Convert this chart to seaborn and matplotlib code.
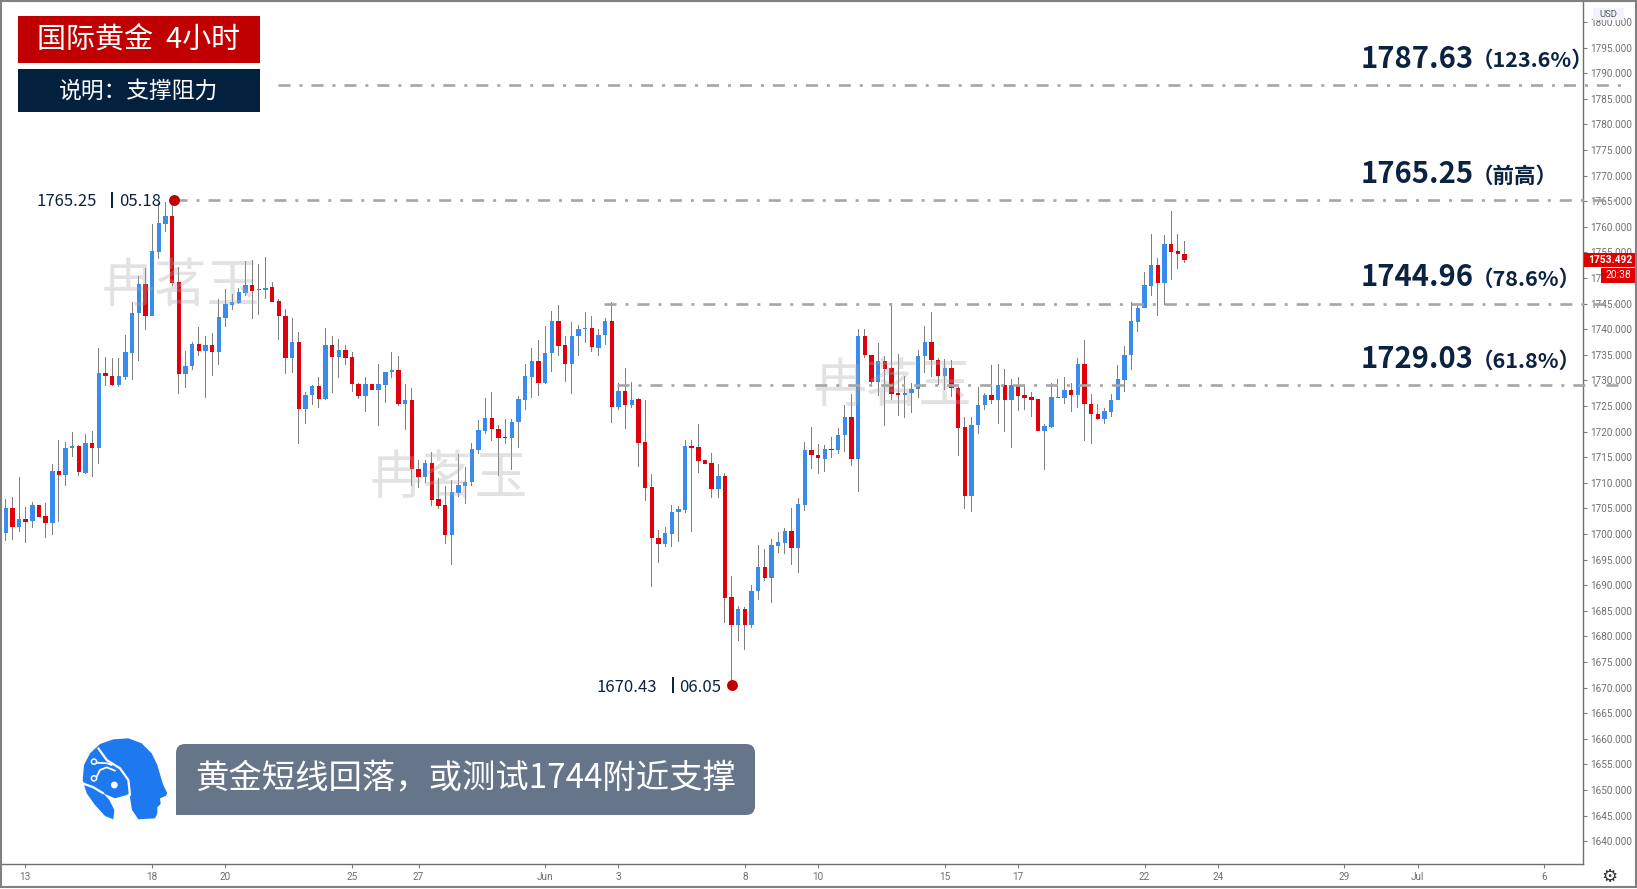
import numpy as np
import pandas as pd
import matplotlib
matplotlib.use("Agg")
import matplotlib.pyplot as plt
from matplotlib.patches import Rectangle, FancyBboxPatch, Polygon, Circle
import seaborn as sns

# ---- data -------------------------------------------------------------
opens = [1700.3,1705.0,1701.4,1702.9,1702.5,1705.7,1703.5,1702.1,1712.3,1711.6,
1716.9,1717.2,1712.0,1717.8,1716.9,1731.4,1730.9,1729.1,1730.7,1735.4,
1743.1,1748.8,1742.6,1755.0,1760.6,1762.1,1749.2,1731.3,1732.8,1737.2,
1735.8,1736.9,1735.6,1742.3,1744.8,1745.1,1747.0,1748.6,1747.6,1747.6,
1748.2,1745.5,1742.6,1734.4,1737.6,1724.4,1727.2,1728.9,1726.3,1736.9,
1734.6,1735.9,1734.6,1729.4,1727.0,1729.4,1728.2,1729.1,1731.6,1732.0,
1725.4,1726.2,1712.7,1711.1,1713.8,1706.9,1705.6,1699.8,1708.1,1709.4,
1710.1,1716.4,1720.2,1722.6,1720.6,1718.9,1718.7,1721.8,1726.2,1730.6,
1733.8,1729.5,1735.3,1741.7,1737.0,1733.3,1738.6,1740.0,1740.2,1736.4,
1738.8,1741.6,1724.9,1728.0,1725.3,1726.3,1717.9,1709.2,1699.2,1698.0,
1700.1,1704.3,1704.7,1717.2,1717.0,1714.4,1713.8,1708.8,1711.4,1687.7,
1682.2,1685.3,1682.2,1688.8,1693.5,1691.5,1697.6,1698.2,1700.6,1697.2,
1705.7,1716.4,1715.5,1714.7,1716.7,1716.4,1719.4,1722.9,1714.6,1738.7,
1735.0,1729.8,1733.9,1732.4,1727.5,1727.2,1727.5,1728.3,1734.8,1737.6,
1734.0,1730.9,1732.4,1728.6,1720.9,1707.5,1721.3,1725.2,1727.1,1726.2,
1729.2,1726.2,1729.2,1727.1,1726.7,1726.3,1720.2,1721.0,1726.6,1726.6,
1728.1,1727.2,1733.2,1725.5,1723.4,1722.5,1723.9,1726.2,1730.1,1735.0,
1741.4,1744.1,1748.5,1752.6,1749.1,1756.6,1755.2,1754.8]
closes = [1705.0,1701.4,1702.9,1702.4,1705.7,1703.4,1702.1,1712.3,1711.5,1716.9,
1717.2,1712.1,1717.7,1716.9,1731.4,1730.8,1729.2,1730.8,1735.6,1743.1,
1748.8,1742.6,1755.2,1760.8,1762.1,1749.0,1731.3,1732.9,1737.2,1735.8,
1736.9,1735.6,1742.4,1744.9,1745.3,1747.2,1748.6,1747.5,1747.7,1748.1,
1745.4,1742.5,1734.4,1737.6,1724.4,1727.2,1728.9,1726.3,1736.9,1734.6,
1735.9,1734.4,1729.3,1727.0,1729.4,1728.2,1729.3,1731.7,1732.0,1725.4,
1726.2,1712.7,1711.1,1713.8,1706.7,1705.4,1699.8,1708.2,1709.5,1710.1,
1716.6,1720.4,1722.6,1720.6,1718.7,1718.7,1721.8,1726.3,1730.8,1733.8,
1729.5,1735.3,1741.7,1736.8,1733.2,1738.7,1740.1,1740.2,1736.5,1738.9,
1741.6,1724.9,1728.0,1725.3,1726.2,1717.7,1709.1,1699.2,1698.0,1700.2,
1704.3,1704.9,1717.2,1716.8,1714.2,1713.7,1708.8,1711.4,1687.5,1682.2,
1685.4,1682.2,1688.9,1693.5,1691.5,1697.8,1698.5,1700.6,1697.2,1705.9,
1716.4,1715.4,1714.8,1716.7,1716.4,1719.4,1722.9,1714.6,1738.7,1735.0,
1729.8,1733.9,1732.3,1727.4,1727.2,1727.6,1728.3,1734.8,1737.6,1734.0,
1730.9,1732.4,1728.5,1720.8,1707.5,1721.4,1725.2,1727.1,1726.2,1729.2,
1726.2,1729.2,1727.0,1726.6,1726.2,1720.2,1721.1,1726.7,1726.8,1728.1,
1727.2,1733.2,1725.5,1723.4,1722.5,1724.0,1726.2,1730.2,1735.0,1741.6,
1744.2,1748.6,1752.6,1749.1,1756.6,1755.1,1754.8,1753.5]
highs = [1706.8,1707.2,1711.2,1705.2,1706.3,1706.5,1706.1,1713.6,1718.4,1718.0,
1719.9,1717.4,1719.5,1720.1,1736.3,1734.6,1734.4,1734.3,1738.9,1745.4,
1750.5,1751.9,1760.5,1764.6,1764.9,1765.25,1752.2,1735.8,1737.6,1740.5,
1738.7,1739.2,1746.0,1747.8,1746.9,1748.0,1753.3,1753.5,1752.7,1754.2,
1749.2,1746.0,1743.9,1742.3,1739.5,1727.7,1729.2,1730.6,1740.2,1738.7,
1738.2,1736.9,1735.6,1729.6,1730.7,1731.2,1733.2,1731.7,1735.5,1734.8,
1729.4,1728.5,1714.5,1714.5,1716.1,1710.9,1709.3,1710.6,1715.7,1713.1,
1717.7,1722.3,1726.5,1727.7,1721.3,1722.4,1722.5,1726.9,1733.2,1736.3,
1737.9,1740.7,1743.6,1744.8,1738.7,1741.4,1740.9,1743.3,1742.6,1740.0,
1742.3,1745.3,1729.5,1732.4,1729.8,1726.5,1726.2,1711.8,1700.8,1701.3,
1705.7,1705.5,1718.4,1718.3,1721.5,1717.0,1715.9,1713.6,1712.0,1691.9,
1686.0,1685.8,1690.1,1697.8,1697.1,1699.0,1700.5,1701.1,1705.1,1707.0,
1717.9,1720.9,1717.6,1717.4,1718.9,1720.8,1725.2,1727.4,1740.0,1740.0,
1735.0,1737.4,1734.8,1745.1,1735.1,1730.9,1729.6,1736.0,1740.6,1743.3,
1734.3,1734.2,1734.0,1728.8,1722.9,1722.9,1728.8,1727.5,1733.0,1733.2,
1732.2,1730.3,1730.7,1729.1,1727.8,1729.6,1721.6,1729.6,1730.3,1730.6,
1729.6,1734.3,1737.9,1727.4,1725.5,1724.6,1727.4,1733.0,1736.7,1745.3,
1744.9,1751.1,1758.7,1754.0,1758.4,1763.1,1758.7,1757.3]
lows = [1698.7,1698.8,1700.5,1698.2,1701.1,1700.3,1699.3,1699.8,1702.4,1709.3,
1715.0,1711.3,1711.7,1711.2,1713.7,1729.0,1729.0,1728.8,1730.1,1730.1,
1733.8,1739.9,1742.6,1753.8,1759.1,1748.5,1727.4,1728.5,1732.0,1734.8,
1726.5,1730.9,1733.0,1740.4,1743.8,1744.9,1746.5,1742.1,1742.8,1746.0,
1745.3,1737.9,1731.3,1731.4,1717.5,1721.5,1725.3,1724.6,1726.2,1727.5,
1730.4,1733.0,1727.7,1726.3,1723.9,1727.2,1721.2,1725.7,1730.4,1725.1,
1720.3,1709.4,1709.0,1709.9,1705.4,1704.9,1698.1,1694.0,1707.3,1705.8,
1709.3,1715.7,1719.6,1718.1,1711.4,1717.6,1712.5,1716.8,1724.3,1726.5,
1726.9,1729.3,1731.7,1734.8,1729.8,1727.4,1734.8,1737.4,1735.6,1734.8,
1737.0,1721.7,1724.3,1720.5,1724.7,1713.1,1706.4,1689.6,1694.4,1697.4,
1697.4,1698.5,1704.1,1700.5,1711.9,1712.2,1707.0,1707.0,1682.7,1670.43,
1679.2,1677.4,1681.6,1687.2,1690.9,1686.5,1696.3,1696.1,1693.9,1692.4,
1704.6,1712.7,1711.8,1712.1,1714.8,1715.6,1716.1,1713.3,1708.3,1734.3,
1729.1,1727.0,1721.2,1726.2,1723.1,1722.6,1723.6,1726.5,1731.4,1730.7,
1729.1,1728.1,1726.7,1715.2,1704.9,1704.4,1719.5,1724.2,1725.5,1721.6,
1719.9,1716.9,1724.1,1724.2,1722.8,1719.5,1712.6,1720.8,1726.5,1725.4,
1723.8,1724.6,1718.2,1717.6,1722.3,1721.6,1722.8,1726.1,1727.7,1732.0,
1739.5,1744.1,1746.5,1742.5,1744.7,1749.6,1751.8,1752.9]

level_prices = [1787.63, 1765.25, 1744.96, 1729.03]
level_start_candle = [40.9, 25.4, 89.8, 91.8]
level_notes = ["（123.6%）", "（前高）", "（78.6%）", "（61.8%）"]
extreme_candles = [25, 109]
extreme_prices = [1765.25, 1670.43]
price_ticks = list(range(1640, 1805, 5))
time_tick_pos = [2.9, 21.9, 33, 52, 62, 81, 92, 111, 122, 141, 152, 171, 182, 201, 212, 231]
time_tick_lab = ["13","18","20","25","27","Jun","3","8","10","15","17","22","24","29","Jul","6"]

W, H = 1637, 889
BLUE, RED, WICK = "#3A8CEC", "#E0000C", "#808080"
NAVY, DKRED = "#0B2341", "#C00000"
GRAY_TXT = "#6F6F6F"
LOGO = "#1E78F0"
CJK = ["Noto Sans CJK SC", "DejaVu Sans"]

sns.set_theme(style="white")
plt.rcParams["font.family"] = CJK
plt.rcParams["axes.unicode_minus"] = False

df = pd.DataFrame({"idx": np.arange(len(opens)), "o": opens, "c": closes, "h": highs, "l": lows})
df["up"] = df["c"] >= df["o"]
df["bot"] = df[["o", "c"]].min(axis=1)
df["body"] = (df["o"] - df["c"]).abs().clip(lower=0.2)
df["range"] = df["h"] - df["l"]

fig = plt.figure(figsize=(W / 100, H / 100), dpi=100, facecolor="white")
ax = fig.add_axes([2 / W, 1 - 864 / H, (1583 - 2) / W, (864 - 2) / H])

# wicks, then bodies, through seaborn
sns.barplot(data=df, x="idx", y="range", bottom=df["l"].values, native_scale=True, orient="x",
            width=0.15, color=WICK, saturation=1, linewidth=0, errorbar=None, ax=ax, zorder=2)
for up, col in [(True, BLUE), (False, RED)]:
    sub = df[df["up"] == up].sort_values("idx")
    sns.barplot(data=sub, x="idx", y="body", bottom=sub["bot"].values, native_scale=True, orient="x",
                width=0.66, color=col, saturation=1, linewidth=0, errorbar=None, ax=ax, zorder=3)

# axes range: candle n sits at 5.7 + 6.66 n px
ax.set_xlim((2 - 5.7) / 6.66, (1583 - 5.7) / 6.66)
ax.set_ylim(1745 - (864 - 303.7) / 5.12, 1745 + (303.7 - 2) / 5.12)
ax.set_xlabel(""); ax.set_ylabel("")
ax.yaxis.tick_right()
ax.set_yticks(price_ticks)
ax.set_yticklabels([f"{p:.3f}" for p in price_ticks], fontsize=7.2, color=GRAY_TXT, family=["Roboto", "DejaVu Sans"])
ax.set_xticks(time_tick_pos)
ax.set_xticklabels(time_tick_lab, fontsize=7.2, color=GRAY_TXT, family=["Roboto", "DejaVu Sans"])
ax.tick_params(axis="y", which="major", right=True, length=3, width=0.8, color="#808080", pad=2.5)
ax.tick_params(axis="x", which="major", bottom=True, length=3, width=0.8, color="#808080", pad=3)
for s in ["left", "top"]:
    ax.spines[s].set_visible(False)
for s in ["right", "bottom"]:
    ax.spines[s].set_color("#6E6E6E"); ax.spines[s].set_linewidth(1.0)
ax.grid(False)

# level lines (run past the price axis, over the scale labels)
line_end = (1622 - 5.7) / 6.66
for p, s in zip(level_prices, level_start_candle):
    ax.plot([s, line_end], [p, p], color="#A6A6A6", lw=1.9, clip_on=False, zorder=6,
            linestyle=(0, (4.55, 3.4, 1.14, 3.4)), dash_capstyle="butt")

# extreme points
ax.scatter([extreme_candles[0] + 0.25, extreme_candles[1]], extreme_prices, s=62, color=DKRED, linewidths=0, zorder=7)

# overlay in pixel coordinates for the annotations
ov = fig.add_axes([0, 0, 1, 1], facecolor="none")
ov.set_xlim(0, W); ov.set_ylim(H, 0); ov.axis("off")

# watermarks
for (x, y) in [(181, 286), (449, 478), (893, 386)]:
    ov.text(x, y, "冉茗玉", fontsize=38, color="#A8A8A8", alpha=0.33, ha="center", va="center")

# header boxes
ov.add_patch(Rectangle((18, 16), 242, 47, color=DKRED, lw=0))
ov.add_patch(Rectangle((18, 69), 242, 43, color="#03203F", lw=0))
ov.text(139, 41, "国际黄金  4小时", color="white", fontsize=20.9, ha="center", va="center")
ov.text(139, 91, "说明：支撑阻力", color="white", fontsize=16.4, ha="center", va="center")

# level labels
label_y = [58.5, 174, 277, 359]
for p, n, y in zip(level_prices, level_notes, label_y):
    ov.text(1361, y, f"{p:.2f}", color=NAVY, fontsize=21, fontweight="bold", ha="left", va="center")
    ov.text(1472, y + 2, n, color=NAVY, fontsize=15.5, fontweight="bold", ha="left", va="center")

# extreme labels
for (x1, x2, xb, y, a, b) in [(36, 119, 112, 202, "1765.25", "05.18"), (596, 679, 672.5, 687, "1670.43", "06.05")]:
    ov.text(x1, y, a, color=NAVY, fontsize=12, ha="left", va="center")
    ov.text(x2, y, b, color=NAVY, fontsize=12, ha="left", va="center")
    ov.add_patch(Rectangle((xb - 1, y - 10), 2.2, 16, color=NAVY, lw=0))

# price tags
ov.add_patch(Rectangle((1584, 253), 52, 14, color="#E00000", lw=0))
ov.text(1610, 260, "1753.492", color="white", fontsize=7.4, fontweight="bold", ha="center", va="center",
        family=["Roboto", "DejaVu Sans"])
ov.add_patch(Rectangle((1601, 268), 35, 15, color="#E00000", lw=0))
ov.text(1618.5, 275.5, "20:38", color="white", fontsize=7.4, ha="center", va="center", family=["Roboto", "DejaVu Sans"])
ov.add_patch(Rectangle((1593, 8), 31, 12, color="#F0F3FA", lw=0))
ov.text(1608, 14.5, "USD", color="#555555", fontsize=6.8, ha="center", va="center", family=["Roboto", "DejaVu Sans"])

# speech bubble: square lower-left corner
ov.add_patch(FancyBboxPatch((176, 744), 579, 71, boxstyle="round,pad=0,rounding_size=9", fc="#66758A", ec="none", lw=0))
ov.add_patch(Rectangle((176, 800), 20, 15, fc="#66758A", ec="none", lw=0))
ov.text(465.5, 778, "黄金短线回落，或测试1744附近支撑", color="white", fontsize=24, ha="center", va="center")

# logo, sketched on a 3x grid from (70, 730)
def lp(pts):
    return [(70 + a / 3, 730 + b / 3) for a, b in pts]

silhouette = [(130,268),(105,258),(75,225),(50,190),(38,150),(42,105),(60,70),(90,42),(130,28),(175,25),(215,40),(245,70),
              (262,105),(272,140),(280,165),(292,190),(287,198),(270,205),(272,222),(262,232),(262,250),(255,265),(205,268),
              (186,240),(178,190),(170,195),(135,205),(100,190),(118,210),(133,240)]
ov.add_patch(Polygon(lp(silhouette), closed=True, fc=LOGO, ec="none"))
def wline(pts, lw=1.3):
    xy = lp(pts)
    ov.plot([a for a, _ in xy], [b for _, b in xy], color="white", lw=lw, solid_capstyle="round")
wline([(85,55),(110,90),(150,115),(175,150),(180,195)], 1.6)
wline([(38,160),(70,172),(100,190)], 1.6)
wline([(80,98),(112,100),(125,105)])
wline([(80,140),(90,120),(110,112),(135,122)])
ox, oy = lp([(133,165)])[0]
ov.add_patch(Circle((ox, oy), 9.5, fc=LOGO, ec="none"))
ov.add_patch(Circle((ox, oy), 3.4, fc="white", ec="none"))
for pt in [(72,95),(72,145)]:
    cx, cy = lp([pt])[0]
    ov.add_patch(Circle((cx, cy), 2.6, fc=LOGO, ec="white", lw=1.1))

# gear and frame
ov.text(1609, 877, "\u2699", color="#333333", fontsize=13, ha="center", va="center", family=["DejaVu Sans"])
ov.add_patch(Rectangle((1, 1), W - 2, H - 3, fc="none", ec="#808080", lw=1.5))

fig.savefig("out.png", dpi=100, facecolor="white")
